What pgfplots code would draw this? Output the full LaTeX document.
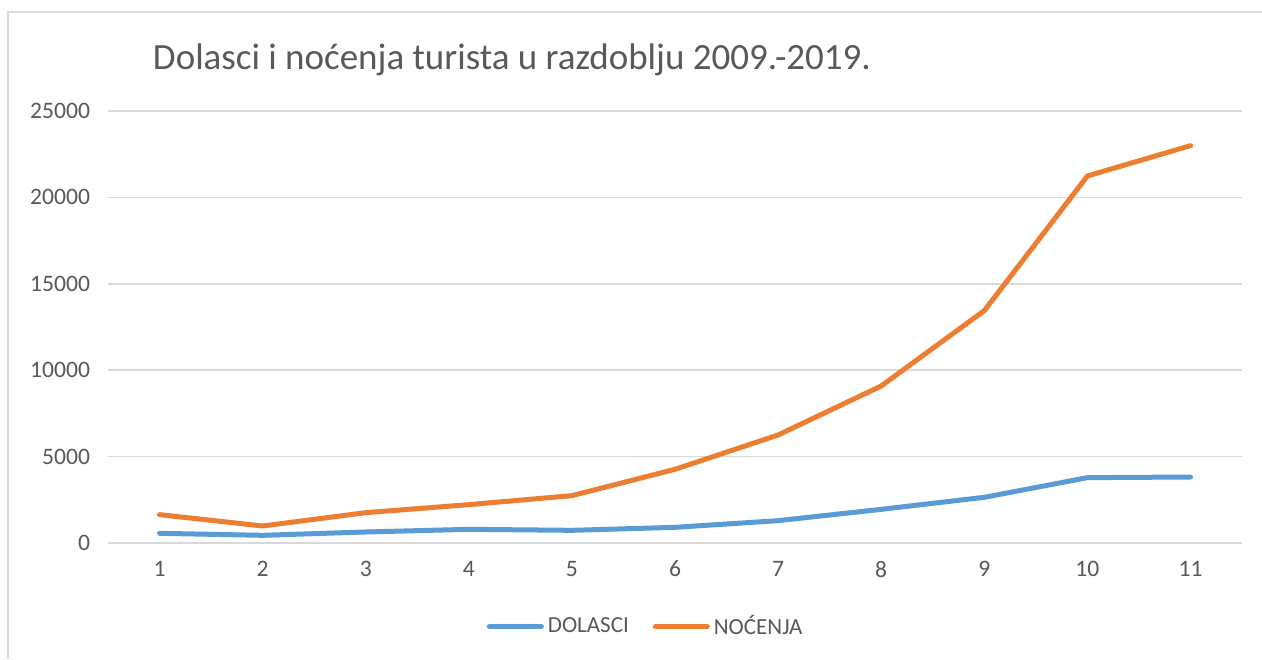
\documentclass[border=0pt]{standalone}
\usepackage{fontspec}
\setmainfont{Carlito}
\usepackage{pgfplots}
\pgfplotsset{compat=1.18}
\definecolor{dolasci}{HTML}{5B9BD5}
\definecolor{nocenja}{HTML}{ED7D31}
\definecolor{txt}{HTML}{595959}
\definecolor{gridc}{HTML}{D9D9D9}
\begin{document}
\begin{tikzpicture}[x=0.5bp,y=0.5bp]
\useasboundingbox[fill=white] (0,0) rectangle (1262,659);
\draw[gridc, line width=0.75bp] (8,0) -- (8,647) -- (1262,647);
\node[text=txt, font=\fontsize{18.5bp}{21bp}\selectfont] at (512,599) {Dolasci i noćenja turista u razdoblju 2009.-2019.};
\begin{axis}[at={(54bp,58bp)}, anchor=south west, scale only axis,
  width=567bp, height=216bp,
  xmin=0.5, xmax=11.5, ymin=0, ymax=25000,
  xtick={1,...,11}, ytick={0,5000,...,25000},
  axis line style={draw=none}, tick style={draw=none},
  ymajorgrids, grid style={gridc, line width=0.75bp},
  scaled y ticks=false,
  /pgf/number format/1000 sep={},
  /pgf/number format/assume math mode=true,
  tick label style={text=txt, font=\fontsize{11.8bp}{13bp}\selectfont},
  yticklabel style={xshift=-5.5bp},
  xticklabel style={yshift=-5.5bp},
  legend columns=2,
  legend style={at={(0.475,-0.194)}, anchor=center, draw=none, fill=none,
    font=\fontsize{11.5bp}{13bp}\selectfont, text=txt,
    /tikz/every even column/.append style={column sep=10bp}},
  legend image code/.code={\draw[#1] (0bp,0bp) -- (26bp,0bp);},
  every axis plot/.append style={line width=2.5bp, line cap=round, line join=round},
]
\addplot[dolasci] coordinates {(1,560) (2,444) (3,637) (4,791) (5,733) (6,906) (7,1292) (8,1948) (9,2643) (10,3781) (11,3819)};
\addlegendentry{DOLASCI}
\addplot[nocenja] coordinates {(1,1640) (2,984) (3,1755) (4,2220) (5,2740) (6,4265) (7,6250) (8,9086) (9,13445) (10,21238) (11,22994)};
\addlegendentry{NOĆENJA}
\end{axis}
\end{tikzpicture}
\end{document}
